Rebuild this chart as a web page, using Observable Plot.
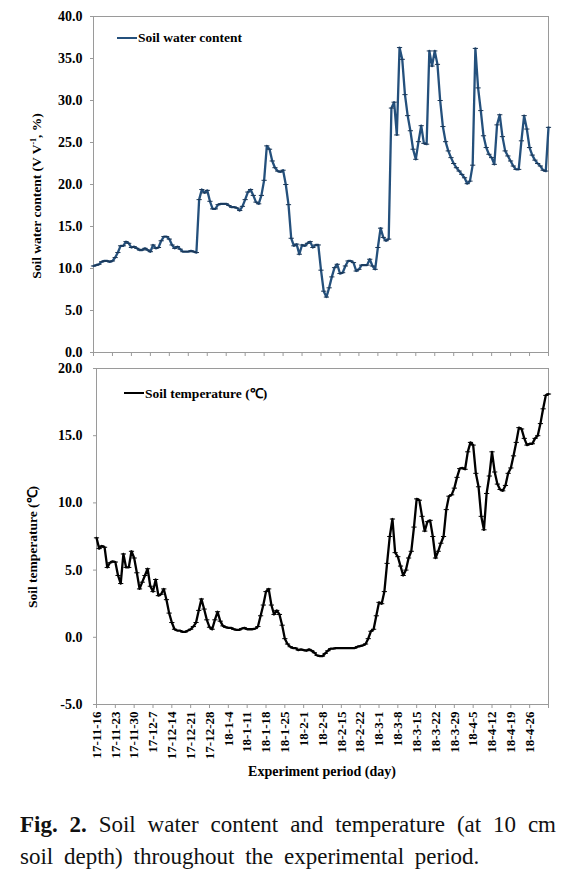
<!DOCTYPE html>
<html>
<head>
<meta charset="utf-8">
<script src="https://cdn.jsdelivr.net/npm/d3@7"></script>
<script src="https://cdn.jsdelivr.net/npm/@observablehq/plot@0.6"></script>
<style>
  html, body { margin: 0; padding: 0; background: #fff; }
  #wrap { position: relative; width: 581px; height: 876px; font-family: "Liberation Serif", "Times New Roman", serif; }
  #wrap svg { display: block; }
  .ov { position: absolute; font-weight: bold; color: #000; white-space: nowrap; }
  .ytitle { transform: translate(-50%, -50%) rotate(-90deg); transform-origin: center; font-size: 13.5px; }
  .leg { font-size: 13.5px; display: flex; align-items: center; }
  .leg i { display: inline-block; width: 20px; height: 2.4px; margin-right: 1px; }
  #caption { position: absolute; left: 20px; top: 809px; width: 536px; font-size: 23px; line-height: 32px; color: #111; }
  #caption .l1 { text-align: justify; text-align-last: justify; white-space: nowrap; }
  #caption .l2 { word-spacing: 5px; white-space: nowrap; }
</style>
</head>
<body>
<div id="wrap"></div>
<script>
// ---- data: day index from 2017-11-16 ----
const tickLabels = ["17-11-16","17-11-23","17-11-30","17-12-7","17-12-14","17-12-21","17-12-28",
  "18-1-4","18-1-11","18-1-18","18-1-25","18-2-1","18-2-8","18-2-15","18-2-22",
  "18-3-1","18-3-8","18-3-15","18-3-22","18-3-29","18-4-5","18-4-12","18-4-19","18-4-26"];
const tickDays = [0,7,14,21,28,35,42,49,56,63,70,77,84,91,98,105,112,119,126,133,140,147,154,161,168];

const waterContent = [
10.3,10.4,10.5,10.8,10.9,10.9,10.8,10.9,11.3,11.9,
12.7,12.7,13.2,13.0,12.5,12.6,12.4,12.2,12.2,12.4,
12.2,12.0,12.8,12.4,12.5,13.3,13.8,13.8,13.5,12.8,
12.4,12.6,12.3,12.0,12.0,12.0,12.1,12.0,11.9,18.2,
19.4,19.0,19.3,18.0,17.1,17.1,17.6,17.7,17.7,17.7,
17.5,17.3,17.3,17.2,16.9,17.4,18.2,19.1,19.4,18.7,
17.9,17.7,18.7,20.5,24.6,24.2,22.8,22.0,21.6,21.5,
21.7,20.0,17.6,13.6,12.7,12.9,11.7,12.8,12.7,13.0,
13.2,12.5,12.8,12.8,9.8,7.3,6.6,7.7,9.0,10.1,
10.5,9.4,9.5,10.3,10.9,10.9,10.7,9.7,9.9,10.4,
10.4,10.4,11.1,10.3,9.9,12.5,14.8,13.7,13.3,13.5,
29.1,29.8,25.9,36.3,34.9,30.7,28.2,26.4,24.2,23.0,
25.1,27.0,24.9,24.8,35.9,34.1,35.9,34.3,30.0,26.9,
25.1,24.0,23.2,22.5,22.0,21.6,21.2,20.8,20.1,20.4,
22.3,36.2,31.5,28.8,25.8,24.4,23.6,23.2,22.4,27.1,
28.3,25.7,24.0,23.4,22.8,22.2,21.8,21.8,25.2,28.2,
26.6,24.4,23.5,22.9,22.5,22.2,21.7,21.6,26.8
];

const soilTemperature = [
7.4,6.6,6.8,6.7,5.2,5.55,5.65,5.6,4.6,4.0,
6.2,5.2,5.2,6.4,5.9,4.8,3.6,4.1,4.6,5.1,
3.8,3.4,4.3,3.1,3.2,3.6,2.8,1.8,1.1,0.6,
0.5,0.5,0.4,0.4,0.5,0.6,0.8,1.1,2.0,2.85,
2.1,1.3,0.75,0.6,1.3,1.9,1.2,0.85,0.75,0.7,
0.7,0.6,0.55,0.55,0.65,0.7,0.6,0.6,0.6,0.65,
0.8,1.6,2.4,3.4,3.6,2.4,1.7,2.0,1.7,0.9,
-0.1,-0.5,-0.7,-0.8,-0.8,-0.95,-0.9,-0.95,-1.0,-0.9,
-1.0,-1.15,-1.35,-1.4,-1.4,-1.2,-1.0,-0.85,-0.85,-0.8,
-0.8,-0.8,-0.8,-0.8,-0.8,-0.8,-0.8,-0.7,-0.65,-0.6,
-0.5,-0.1,0.45,0.6,1.6,2.6,2.5,3.4,5.5,7.5,
8.8,6.3,6.0,5.3,4.6,5.0,5.9,6.4,8.2,10.3,
10.2,9.0,7.9,8.6,8.7,7.5,5.9,6.4,7.0,7.5,
9.5,10.5,10.6,11.1,11.9,12.55,12.6,12.5,13.8,14.5,
14.3,12.2,11.2,9.0,8.0,10.7,12.0,13.8,12.3,11.4,
11.0,10.9,11.3,12.2,12.6,13.5,14.5,15.6,15.5,14.8,
14.3,14.4,14.4,14.8,15.0,15.9,17.0,18.0,18.1
];

const waterTicks = [0,5,10,15,20,25,30,35,40];
const tempTicks = [-5,0,5,10,15,20];

const waterRows = waterContent.map((v, i) => ({day: i, v}));
const tempRows = soilTemperature.map((v, i) => ({day: i, v}));

// dash-shaped marker
const dash = { draw(ctx, size) { const r = Math.sqrt(size / Math.PI); ctx.moveTo(-r, 0); ctx.lineTo(r, 0); } };

const baseStyle = { fontFamily: '"Liberation Serif", "Times New Roman", serif', fontSize: "13px", fontWeight: "bold", background: "white", color: "#000", overflow: "visible" };
const gridGray = "#9a9a9a";

const waterChart = Plot.plot({
  width: 581, height: 360,
  marginLeft: 93, marginRight: 33, marginTop: 16, marginBottom: 8,
  style: baseStyle,
  x: {domain: [0, 168]},
  y: {domain: [0, 40]},
  marks: [
    Plot.frame({stroke: gridGray}),
    Plot.axisX({ticks: tickDays, tickFormat: () => "", tickSize: 4, stroke: gridGray, label: null}),
    Plot.axisY({ticks: waterTicks, tickFormat: d => d.toFixed(1), tickSize: 3, tickPadding: 8, stroke: gridGray, label: null, fontSize: 14}),
    Plot.line(waterRows, {x: "day", y: "v", stroke: "#24507c", strokeWidth: 2.3}),
    Plot.dot(waterRows, {x: "day", y: "v", symbol: dash, r: 2.6, fill: "none", stroke: "#1a3656", strokeWidth: 1})
  ]
});

const tempChart = Plot.plot({
  width: 581, height: 425,
  marginLeft: 96, marginRight: 33, marginTop: 8, marginBottom: 81,
  style: baseStyle,
  x: {domain: [0, 168]},
  y: {domain: [-5, 20]},
  marks: [
    Plot.frame({stroke: gridGray}),
    Plot.axisX({ticks: tickDays, tickFormat: d => tickLabels[d / 7] ?? "", tickSize: 4, tickPadding: 3, tickRotate: -90, stroke: gridGray, label: null, fontSize: 13}),
    Plot.axisY({ticks: tempTicks, tickFormat: d => d.toFixed(1), tickSize: 3, tickPadding: 11, stroke: gridGray, label: null, fontSize: 14}),
    Plot.line(tempRows, {x: "day", y: "v", stroke: "#000", strokeWidth: 2.3}),
    Plot.dot(tempRows, {x: "day", y: "v", symbol: dash, r: 2.6, fill: "none", stroke: "#000", strokeWidth: 1})
  ]
});

const wrap = document.getElementById("wrap");
wrap.appendChild(waterChart);
wrap.appendChild(tempChart);

function ov(html, cls, left, topPx) {
  const d = document.createElement("div");
  d.className = "ov " + cls;
  d.style.left = left + "px";
  d.style.top = topPx + "px";
  d.innerHTML = html;
  wrap.appendChild(d);
  return d;
}
// axis titles
ov('Soil water content (V V<sup style="font-size:8px">-1</sup>, %)', "ytitle", 37, 196);
ov('Soil temperature (\u2103)', "ytitle", 32, 547);
const xt = ov('Experiment period (day)', "", 0, 764);
xt.style.fontSize = "14px"; xt.style.left = "322px"; xt.style.transform = "translateX(-50%)";
// legends
ov('<i style="background:#24507c"></i>Soil water content', "leg", 117, 30);
ov('<i style="background:#000"></i>Soil temperature (\u2103)', "leg", 124, 384);

// caption
const cap = document.createElement("div");
cap.id = "caption";
cap.innerHTML = '<div class="l1"><b>Fig. 2.</b> Soil water content and temperature (at 10 cm</div><div class="l2">soil depth) throughout the experimental period.</div>';
wrap.appendChild(cap);
</script>
</body>
</html>
